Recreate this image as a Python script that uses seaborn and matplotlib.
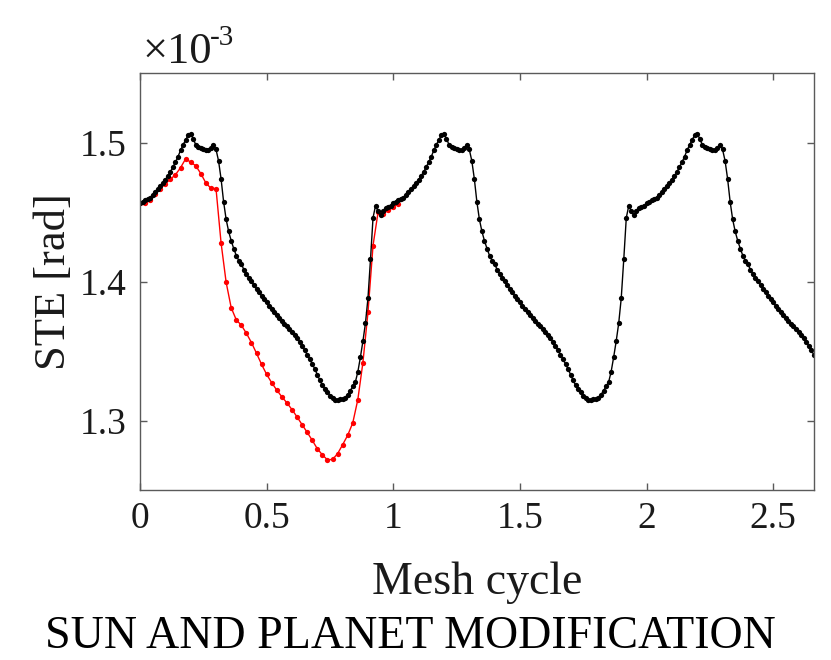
import numpy as np
import pandas as pd
import matplotlib
matplotlib.use("Agg")
import matplotlib.pyplot as plt
import seaborn as sns

# STE over one mesh cycle (units of 1e-3 rad), sampled every 0.01 cycle
ste_cycle = [
    1.4566, 1.4575, 1.4585, 1.4595, 1.4605, 1.4625, 1.4645, 1.4665, 1.4685, 1.4710,
    1.4735, 1.4760, 1.4790, 1.4825, 1.4860, 1.4900, 1.4945, 1.4985, 1.5020, 1.5055,
    1.5062, 1.5030, 1.4985, 1.4970, 1.4960, 1.4955, 1.4948, 1.4945, 1.4962, 1.4980,
    1.4952, 1.4870, 1.4740, 1.4575, 1.4448, 1.4361, 1.4294, 1.4238, 1.4188, 1.4152,
    1.4130, 1.4085, 1.4055, 1.4028, 1.4002, 1.3975, 1.3948, 1.3922, 1.3897, 1.3873,
    1.3850, 1.3826, 1.3803, 1.3780, 1.3759, 1.3738, 1.3718, 1.3698, 1.3678, 1.3659,
    1.3638, 1.3616, 1.3594, 1.3568, 1.3540, 1.3508, 1.3475, 1.3442, 1.3408, 1.3372,
    1.3331, 1.3289, 1.3255, 1.3228, 1.3205, 1.3180, 1.3160, 1.3148, 1.3145, 1.3155,
    1.3158, 1.3165, 1.3185, 1.3215, 1.3245, 1.3275, 1.3350, 1.3455, 1.3570, 1.3700,
    1.3880, 1.4160, 1.4460, 1.4548, 1.4506, 1.4480, 1.4505, 1.4528, 1.4535, 1.4545,
]
n_cycles_shown = 2.66
step_baseline = 0.01

# Modified sun and planet: first cycle only, every 0.02 cycle
x_modified = [
    0.00, 0.02, 0.04, 0.06, 0.08, 0.10, 0.12, 0.14, 0.16, 0.18,
    0.20, 0.22, 0.24, 0.26, 0.28, 0.30, 0.32, 0.34, 0.36, 0.38,
    0.40, 0.42, 0.44, 0.46, 0.48, 0.50, 0.52, 0.54, 0.56, 0.58,
    0.60, 0.62, 0.64, 0.66, 0.68, 0.70, 0.72, 0.74, 0.76, 0.78,
    0.80, 0.82, 0.84, 0.86, 0.88, 0.90, 0.92, 0.94, 0.96, 0.98,
    1.00, 1.02,
]
ste_modified = [
    1.4566, 1.4563, 1.4590, 1.4630, 1.4670, 1.4705, 1.4737, 1.4770, 1.4820, 1.4884,
    1.4860, 1.4834, 1.4778, 1.4710, 1.4672, 1.4670, 1.4279, 1.3995, 1.3812, 1.3725,
    1.3686, 1.3628, 1.3561, 1.3484, 1.3404, 1.3332, 1.3272, 1.3219, 1.3171, 1.3127,
    1.3079, 1.3026, 1.2970, 1.2915, 1.2858, 1.2797, 1.2753, 1.2717, 1.2720, 1.2761,
    1.2826, 1.2894, 1.2983, 1.3151, 1.3417, 1.3778, 1.4260, 1.4501, 1.4489, 1.4513,
    1.4537, 1.4561,
]

x_ticks = [0, 0.5, 1, 1.5, 2, 2.5]
x_tick_labels = ["0", "0.5", "1", "1.5", "2", "2.5"]
y_ticks = [1.3, 1.4, 1.5]
y_tick_labels = ["1.3", "1.4", "1.5"]

# Baseline series repeats the same cycle shape
n_base = int(round(n_cycles_shown / step_baseline)) + 1
x_base = np.round(np.arange(n_base) * step_baseline, 4)
ste_base = np.array((ste_cycle * 3)[:n_base])

df_base = pd.DataFrame({"cycle": x_base, "ste": ste_base})
df_mod = pd.DataFrame({"cycle": x_modified, "ste": ste_modified})

sns.set_theme(style="white")
plt.rcParams["font.family"] = ["Liberation Serif", "DejaVu Serif"]

fig = plt.figure(figsize=(8.31, 6.60), dpi=100)
ax = fig.add_axes([0.1685, 0.2576, 0.8110, 0.6314])

sns.lineplot(data=df_mod, x="cycle", y="ste", ax=ax, color="#ff0000",
             linewidth=1.0, marker="o", markersize=3.8, markeredgewidth=0,
             estimator=None, sort=False)
sns.lineplot(data=df_base, x="cycle", y="ste", ax=ax, color="#000000",
             linewidth=1.0, marker="o", markersize=3.8, markeredgewidth=0,
             estimator=None, sort=False)

ax.set_xlim(0, 2.661)
ax.set_ylim(1.25, 1.55)
ax.set_xticks(x_ticks)
ax.set_xticklabels(x_tick_labels)
ax.set_yticks(y_ticks)
ax.set_yticklabels(y_tick_labels)

spine_color = "#5a5a5a"
for s in ax.spines.values():
    s.set_visible(True)
    s.set_color(spine_color)
    s.set_linewidth(1.0)

ax.tick_params(axis="both", which="major", direction="in", length=5,
               width=1.0, color=spine_color, labelsize=27,
               labelcolor="#1a1a1a", top=True, right=True,
               bottom=True, left=True)
ax.tick_params(axis="x", pad=8)
ax.tick_params(axis="y", pad=10)

ax.set_xlabel("Mesh cycle", fontsize=33, color="#1a1a1a", labelpad=19)
ax.set_ylabel("STE [rad]", fontsize=32, color="#1a1a1a", labelpad=4)

# exponent marker above the y axis
ax.text(0.003, 1.024, "\u00d710", transform=ax.transAxes, fontsize=32,
        color="#1a1a1a", ha="left", va="baseline")
ax.text(0.104, 1.068, "-3", transform=ax.transAxes, fontsize=21,
        color="#1a1a1a", ha="left", va="baseline")

fig.text(0.494, 0.018, "SUN AND PLANET MODIFICATION", fontsize=33,
         color="#000000", ha="center", va="baseline")

fig.savefig("out.png", dpi=100, facecolor="white")
